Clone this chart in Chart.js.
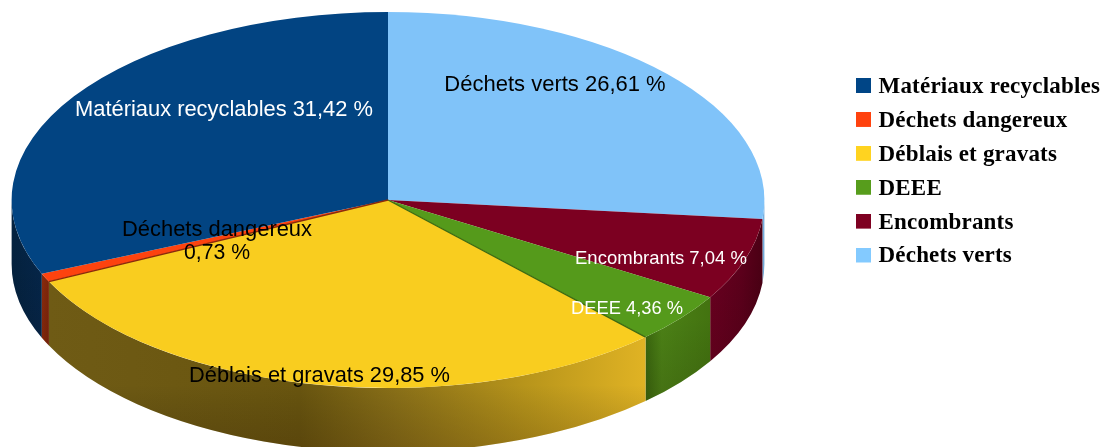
<!DOCTYPE html>
<html lang="fr">
<head>
<meta charset="utf-8">
<title>Déchets</title>
<style>html,body{margin:0;padding:0;background:#fff;overflow:hidden}canvas{display:block}</style>
<script src="https://cdn.jsdelivr.net/npm/chart.js@4"></script>
</head>
<body>
<canvas id="c" width="1101" height="447"></canvas>
<script>
// Values, in pie order (clockwise from 12 o'clock)
const categories = ["Déchets verts", "Encombrants", "DEEE", "Déblais et gravats", "Déchets dangereux", "Matériaux recyclables"];
const shares = [26.61, 7.04, 4.36, 29.85, 0.73, 31.42];
const shareLabels = ["26,61 %", "7,04 %", "4,36 %", "29,85 %", "0,73 %", "31,42 %"];

// Styling
const faceColors = ["#80c3f9", "#7c0021", "#559a1b", "#f9cd1f", "#fd430f", "#024482"];
const legendColors = ["#83caff", "#7e0021", "#579d1c", "#ffd320", "#ff420e", "#004586"];
const wallStops = [
  [[0, "#7fbdf0"], [1, "#6fa8d8"]],
  [[0, "#6a0020"], [0.6, "#5c001b"], [1, "#4a0014"]],
  [[0, "#3a660e"], [0.25, "#4c8116"], [1, "#437310"]],
  [[0, "#6f5b15"], [0.42, "#69550f"], [0.58, "#8a7018"], [0.8, "#b8951b"], [1, "#e0b324"]],
  [[0, "#8a2a0c"], [1, "#7a240a"]],
  [[0, "#04223f"], [1, "#05264a"]]
];
const labelStyles = [
  {x: 555, y: 85, color: "#000", size: 22, width: 222},
  {x: 661, y: 259, color: "#fff", size: 18.6, width: 172},
  {x: 627, y: 309, color: "#fff", size: 18.4, width: 112},
  {x: 319.5, y: 376, color: "#000", size: 22, width: 261},
  {x: 217, y: 230, color: "#000", size: 22, width: 190, twoLines: true, y2: 252.5, width2: 66},
  {x: 224, y: 110, color: "#fff", size: 22, width: 298}
];
const depth = 64;
const squeeze = 2.002;

// Legend swatch: a 15px square sitting at the top of a slightly taller transparent image
function swatch(color) {
  const c = document.createElement("canvas");
  c.width = 15; c.height = 18;
  const x = c.getContext("2d");
  x.fillStyle = color;
  x.fillRect(0, 0, 15, 15);
  return c;
}

const pie3d = {
  id: "pie3d",
  beforeDraw(chart) {
    chart.ctx.letterSpacing = "0.2px";
  },
  beforeDatasetsDraw(chart) {
    const ctx = chart.ctx;
    ctx.letterSpacing = "0px";
    const arcs = chart.getDatasetMeta(0).data;
    const cx = arcs[0].x, cy = arcs[0].y, r = arcs[0].outerRadius;
    ctx.save();
    arcs.forEach((arc, i) => {
      // keep only the part of the rim that faces the viewer
      const a = Math.max(arc.startAngle, 0);
      const b = Math.min(arc.endAngle, Math.PI);
      if (b <= a) return;
      const xa = cx + squeeze * r * Math.cos(a), xb = cx + squeeze * r * Math.cos(b);
      const g = ctx.createLinearGradient(Math.min(xa, xb), 0, Math.max(xa, xb), 0);
      wallStops[i].forEach(s => g.addColorStop(s[0], s[1]));
      ctx.beginPath();
      ctx.ellipse(cx, cy, squeeze * r, r, 0, a, b);
      ctx.ellipse(cx, cy + depth, squeeze * r, r, 0, b, a, true);
      ctx.closePath();
      ctx.fillStyle = g;
      ctx.fill();
      // darker towards the bottom edge of the rim
      const v = ctx.createLinearGradient(0, cy + r * Math.sin((a + b) / 2), 0, cy + r + depth);
      v.addColorStop(0, "rgba(0,0,0,0)");
      v.addColorStop(1, "rgba(40,15,0,0.22)");
      ctx.fillStyle = v;
      ctx.fill();
    });
    ctx.restore();
    // The library's arcs become the elliptical top face
    ctx.save();
    ctx.translate(cx, cy);
    ctx.scale(squeeze, 1);
    ctx.translate(-cx, -cy);
  },
  afterDatasetsDraw(chart) {
    const ctx = chart.ctx;
    ctx.restore();
    const arcs = chart.getDatasetMeta(0).data;
    const cx = arcs[0].x, cy = arcs[0].y, r = arcs[0].outerRadius;
    // thin shaded seams along the yellow slice
    [[arcs[3].startAngle, "#3c6a12"], [arcs[3].endAngle, "#8a2a0c"]].forEach(([ang, col]) => {
      ctx.beginPath();
      ctx.moveTo(cx, cy);
      ctx.lineTo(cx + squeeze * r * Math.cos(ang), cy + r * Math.sin(ang));
      ctx.strokeStyle = col;
      ctx.lineWidth = 1.4;
      ctx.stroke();
    });
    // value labels
    ctx.save();
    ctx.textAlign = "center";
    ctx.textBaseline = "middle";
    categories.forEach((name, i) => {
      const s = labelStyles[i];
      ctx.font = s.size + 'px "Liberation Sans"';
      ctx.fillStyle = s.color;
      if (s.twoLines) {
        ctx.fillText(name, s.x, s.y, s.width);
        ctx.fillText(shareLabels[i], s.x, s.y2, s.width2);
      } else {
        ctx.fillText(name + " " + shareLabels[i], s.x, s.y, s.width);
      }
    });
    ctx.restore();
  },
  afterLayout(chart) {
    const lg = chart.legend;
    const w = lg.width, h = lg.height;
    lg.left = 849.1; lg.right = lg.left + w;
    lg.top = 64.6; lg.bottom = lg.top + h;
  }
};

new Chart(document.getElementById("c"), {
  type: "pie",
  data: {
    labels: categories,
    datasets: [{
      data: shares,
      backgroundColor: faceColors,
      borderWidth: 0,
      clip: false
    }]
  },
  plugins: [pie3d],
  options: {
    responsive: false,
    animation: false,
    events: [],
    layout: {padding: {left: 0, right: 325, top: 12, bottom: 59}},
    plugins: {
      tooltip: {enabled: false},
      legend: {
        position: "chartArea",
        align: "start",
        reverse: true,
        labels: {
          usePointStyle: true,
          pointStyleWidth: 7,
          boxHeight: 15,
          padding: 10.9,
          color: "#000",
          font: {family: '"Liberation Serif"', size: 23, weight: "bold"},
          generateLabels(chart) {
            return categories.map((name, i) => ({
              text: name, pointStyle: swatch(legendColors[i]), fillStyle: legendColors[i],
              strokeStyle: legendColors[i], lineWidth: 0, hidden: false, index: i, fontColor: "#000"
            }));
          }
        }
      }
    }
  }
});
</script>
</body>
</html>
